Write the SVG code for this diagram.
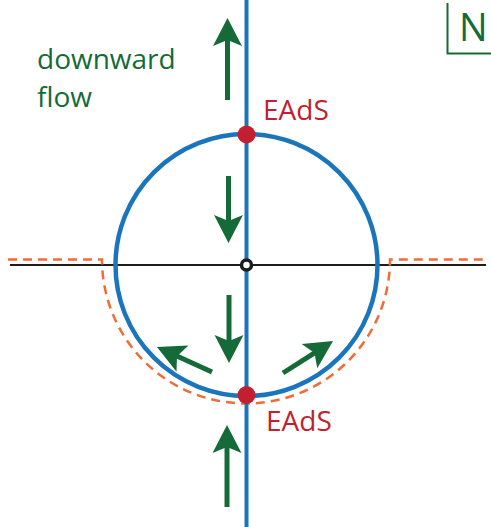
<svg xmlns="http://www.w3.org/2000/svg" width="491" height="527" viewBox="0 0 491 527">
<style>
.g{fill:#146b38}
.lbl{font-family:"Open Sans","Noto Sans",sans-serif;}
.flow{stroke:#146b38;stroke-width:5;fill:none;marker-end:url(#ah)}
.red{fill:#c21f30}
</style>
<defs>
<marker id="ah" markerUnits="userSpaceOnUse" markerWidth="30" markerHeight="32" refX="8" refY="16" orient="auto" viewBox="0 0 30 32">
<path d="M0,1.5 L28,16 L0,30.5 L6,16 Z" fill="#146b38"/>
</marker>
</defs>
<rect width="491" height="527" fill="#fff"/>
<g id="axes">
<line x1="10" y1="265" x2="486" y2="265" stroke="#1d1d1b" stroke-width="2"/>
<path d="M8,259.5 H102 A144,144 0 0 0 390,259.5 H486" fill="none" stroke="#f26b35" stroke-width="2.5" stroke-dasharray="9,6"/>
<line x1="246.5" y1="0" x2="246.5" y2="527" stroke="#1a75bc" stroke-width="4"/>
</g>
<g id="circle">
<circle cx="246.5" cy="265" r="131" fill="none" stroke="#1a75bc" stroke-width="4.5"/>
</g>
<g id="center">
<circle cx="246.5" cy="265" r="5" fill="#fff" stroke="#1d1d1b" stroke-width="3.5"/>
</g>
<g id="eads-top">
<circle cx="246.5" cy="134.5" r="9" class="red"/>
<text x="263" y="120" font-size="28" class="lbl red">EAdS</text>
</g>
<g id="eads-bottom">
<circle cx="246.5" cy="395" r="9" class="red"/>
<text x="266" y="430.5" font-size="28" class="lbl red">EAdS</text>
</g>
<g id="label">
<text class="lbl g" font-size="28"><tspan x="37" y="69">downward</tspan><tspan x="37" y="107">flow</tspan></text>
</g>
<g id="north">
<path d="M447.5,3 V53.5 H491" fill="none" stroke="#146b38" stroke-width="2"/>
<text x="459" y="41" font-size="38" class="lbl g">N</text>
</g>
<g id="connectors">
<line class="flow" x1="227.5" y1="100" x2="227.5" y2="38"/>
<line class="flow" x1="228.5" y1="176" x2="228.5" y2="223"/>
<line class="flow" x1="229" y1="295" x2="229" y2="343"/>
<line class="flow" x1="212" y1="372" x2="175.2" y2="355.3"/>
<line class="flow" x1="283" y1="373" x2="316.2" y2="351.8"/>
<line class="flow" x1="227" y1="507" x2="227" y2="445"/>
</g>
</svg>
